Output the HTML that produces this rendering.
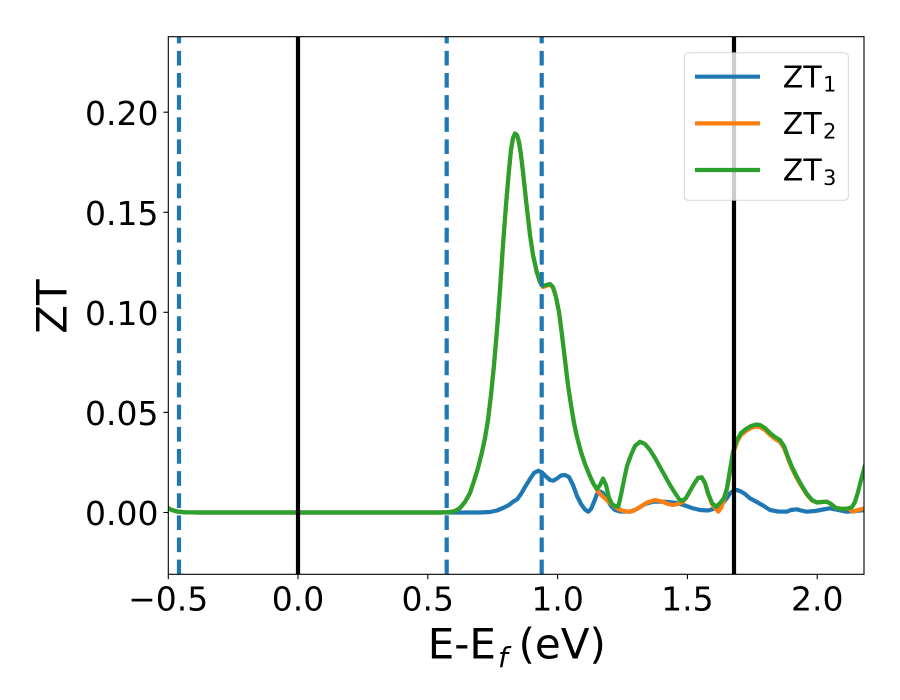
<!DOCTYPE html>
<html><head><meta charset="utf-8"><style>
html,body{margin:0;padding:0;background:#fff;}
svg{display:block;}
text{font-family:"DejaVu Sans","Liberation Sans",sans-serif;fill:#000;}
</style></head><body>
<svg width="900" height="700" viewBox="0 0 900 700" xmlns="http://www.w3.org/2000/svg">
<rect width="900" height="700" fill="#fff"/>
<defs><clipPath id="c"><rect x="168.3" y="36.7" width="695.7" height="537.6"/></clipPath></defs>
<g clip-path="url(#c)" fill="none" stroke-linejoin="round" stroke-linecap="round" stroke-width="4.2">
<!-- blue -->
<polyline stroke="#1f77b4" points="166,507 168.3,508.3 172,510 177,511.5 185,512.3 200,512.5 300,512.5 480,512.5 490,512 497,510.5 503,508 509,505 514,501 517,499.5 521,494 525,487 530,479 534,473 538.3,470.7 542,472.5 546,476.5 550,480 553.3,480.7 557,478.5 561,475.5 565,475 569,477 573,485 577,496 581,504 585,509.5 588.3,511.7 591,509 594,502 597,494 600,491.5 603,493 607,499 611,506 615,510 620,511.5 630,511.7 637,509 645,504 653,501.7 660,501.5 668,502 676.7,503 685,505.5 692,508 700,510 708,510.5 716.7,508 722,504 727,498 730,493.3 734,490.5 737,490 741,491.5 745,494 750,498.3 756,501.5 763,505.5 770,510 778,511.5 786.7,511.7 791,510 796.7,509.3 801,510.5 806.7,511.7 815,511 823,509.5 830,508.3 838,510 846.7,511.7 855,511 866,510"/>
<!-- orange -->
<polyline stroke="#ff7f0e" points="166,507 168.3,508.3 172,510 177,511.5 185,512.3 200,512.5 300,512.5 440,512.5 450,512 455,511 460,508 465,502 470,493 474,481 478,468 482,452 485,438 488,420 491,395 494,365 497,330 500,290 503,245 506,205 509,170 511,150 513,138 515,133.5 517,135 519,142 521,155 523,172 526,200 530,235 533,255 537,273 540,282 543,287 546,286 550,284.5 553,287.5 556,297 559,312 562,335 565,360 568,385 571,405 574,423 577,437 581,452 585,464 589,474 593,483 597,490 600,494 605,498.5 610,503 616.7,508 622,510.5 628,511.7 633,511 640,507 647,502.5 655,500 662,501.5 668,504 673,505 678,504 683,501.7 686,498 690,491 694,484 698,478 701.7,477.3 705,483 708,494 712,504 716,509 718.3,511.7 721,508 724,500 727,489 730,472 733,454 737,442 741,435 746,431 751,428 756,426.5 760,427 765,430 770,435 775,439 780,442 784,448 788,458.5 792,468.5 797,478.5 802,487 807,495 812,500.5 817,502.5 822,502 827,501.7 831,504 836,508 842,509 848,508.5 853.3,511.7 858,510 866,508"/>
<!-- green -->
<polyline stroke="#2ca02c" points="166,507 168.3,508.3 172,510 177,511.5 185,512.3 200,512.5 300,512.5 440,512.5 450,512 455,511 460,508 465,502 470,493 474,481 478,468 482,452 485,438 488,420 491,395 494,365 497,330 500,290 503,245 506,205 509,170 511,150 513,138 515,133.5 517,135 519,142 521,155 523,172 526,200 530,235 533,255 537,273 540,282 543,286 546,285 550,284 553,287 556,297 559,312 562,335 565,360 568,385 571,405 574,423 577,437 581,452 585,464 589,474 593,483 597,489 600,485 603,478.5 606,485 609,498 612,504 615,506 618.3,506.5 621,495 624,480 627,466 631,455 635,446 640,441.7 645,444 650,450 655,458 660,467 665,476 670,485 675,493 679,499 682,501 686,498 690,491 694,484 698,478 701.7,477.3 705,483 708,493 712,503 716,506.7 720,503 724,498 727,488 730,470 733,452 737,440 741,433 746,429 751,426 756,424.5 760,425 765,428 770,433 775,437 780,440 784,446 788,457 792,467 797,477 802,486 807,494 812,500 817,502.5 822,502 827,501.7 831,504 836,508 842,509 848,508.5 852,507 855,502 858,492 861,480 864,469 866,462"/>
</g>
<!-- vertical lines -->
<g stroke-width="4.2" fill="none">
<line x1="298" y1="574.3" x2="298" y2="36.7" stroke="#000"/>
<line x1="734" y1="574.3" x2="734" y2="36.7" stroke="#000"/>
<line x1="179" y1="574.3" x2="179" y2="36.7" stroke="#1f77b4" stroke-dasharray="14.7 7.42"/>
<line x1="446.7" y1="574.3" x2="446.7" y2="36.7" stroke="#1f77b4" stroke-dasharray="14.7 7.42"/>
<line x1="541.7" y1="574.3" x2="541.7" y2="36.7" stroke="#1f77b4" stroke-dasharray="14.7 7.42"/>
</g>
<!-- spines -->
<rect x="168.3" y="36.7" width="695.7" height="537.6" fill="none" stroke="#000" stroke-width="1.1"/>
<!-- ticks -->
<g stroke="#000" stroke-width="1.1">
<line x1="163.4" y1="512.5" x2="168.3" y2="512.5"/>
<line x1="163.4" y1="412.4" x2="168.3" y2="412.4"/>
<line x1="163.4" y1="312.3" x2="168.3" y2="312.3"/>
<line x1="163.4" y1="212.3" x2="168.3" y2="212.3"/>
<line x1="163.4" y1="112.2" x2="168.3" y2="112.2"/>
<line x1="168.3" y1="574.3" x2="168.3" y2="579.2"/>
<line x1="298" y1="574.3" x2="298" y2="579.2"/>
<line x1="427.8" y1="574.3" x2="427.8" y2="579.2"/>
<line x1="557.6" y1="574.3" x2="557.6" y2="579.2"/>
<line x1="687.4" y1="574.3" x2="687.4" y2="579.2"/>
<line x1="817.2" y1="574.3" x2="817.2" y2="579.2"/>
</g>
<g font-size="33" text-anchor="end">
<text x="158.5" y="525.2">0.00</text>
<text x="158.5" y="425.1">0.05</text>
<text x="158.5" y="325">0.10</text>
<text x="158.5" y="225">0.15</text>
<text x="158.5" y="124.9">0.20</text>
</g>
<g font-size="33" text-anchor="middle">
<text x="168.2" y="610.7">−0.5</text>
<text x="298" y="610.7">0.0</text>
<text x="427.8" y="610.7">0.5</text>
<text x="557.6" y="610.7">1.0</text>
<text x="687.4" y="610.7">1.5</text>
<text x="817.2" y="610.7">2.0</text>
</g>
<!-- axis labels -->
<text font-size="42" transform="translate(66.5,306.5) rotate(-90)" text-anchor="middle">ZT</text>
<text font-size="42" y="658.3"><tspan x="427.7">E-E</tspan><tspan x="498" y="667" font-size="28" font-style="italic">f</tspan><tspan x="518.5" y="658.3">(eV)</tspan></text>
<!-- legend -->
<rect x="684.3" y="52.7" width="164" height="147.6" rx="4" ry="4" fill="#fff" fill-opacity="0.8" stroke="#cccccc" stroke-opacity="0.8" stroke-width="1"/>
<g stroke-width="4.2">
<line x1="695" y1="76.7" x2="760" y2="76.7" stroke="#1f77b4"/>
<line x1="695" y1="123.4" x2="760" y2="123.4" stroke="#ff7f0e"/>
<line x1="695" y1="170" x2="760" y2="170" stroke="#2ca02c"/>
</g>
<g font-size="30">
<text x="782.8" y="87.3">ZT</text><text x="823" y="91.7" font-size="21">1</text>
<text x="782.8" y="134">ZT</text><text x="823" y="138.4" font-size="21">2</text>
<text x="782.8" y="180.6">ZT</text><text x="823" y="185" font-size="21">3</text>
</g>
</svg>
</body></html>
